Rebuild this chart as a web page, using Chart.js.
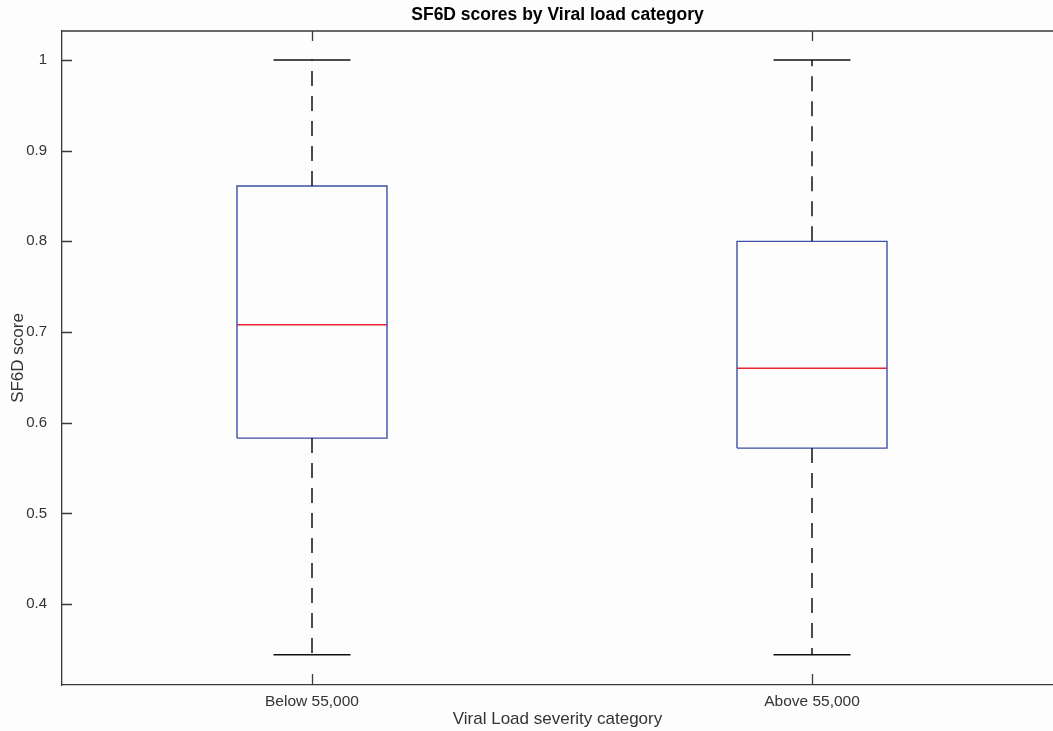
<!DOCTYPE html>
<html>
<head>
<meta charset="utf-8">
<script src="https://cdn.jsdelivr.net/npm/chart.js@4/dist/chart.umd.min.js"></script>
<style>
  html, body { margin: 0; padding: 0; background: #fdfdfd; }
  #wrap { width: 1053px; height: 731px; }
</style>
</head>
<body>
<div id="wrap"><canvas id="chart" width="1053" height="731"></canvas></div>
<script>
// box plot summary values
const categories = ['Below 55,000', 'Above 55,000'];
const whiskerLow = [0.344, 0.344];
const q1 = [0.583, 0.572];
const median = [0.708, 0.660];
const q3 = [0.861, 0.800];
const whiskerHigh = [1.0, 1.0];

const yTicks = [0.4, 0.5, 0.6, 0.7, 0.8, 0.9, 1.0];
const yTickLabels = ['0.4', '0.5', '0.6', '0.7', '0.8', '0.9', '1'];

const boxHalf = 0.15;   // half box width, in category units
const capHalf = 0.077;  // half whisker cap width

const blue = '#3d4fa6';
const red = '#e8262d';
const black = '#111111';
const axisColor = '#3a3a3a';

const datasets = [];
categories.forEach((c, i) => {
  const x = i + 1;
  const line = (data, color, dash, width) => ({
    data, borderColor: color, borderWidth: width, borderDash: dash,
    showLine: true, pointRadius: 0, fill: false, tension: 0
  });
  // whiskers (drawn from box outward)
  datasets.push(line([{x, y: q3[i]}, {x, y: whiskerHigh[i]}], black, [15, 10], 1.5));
  datasets.push(line([{x, y: q1[i]}, {x, y: whiskerLow[i]}], black, [15, 10], 1.5));
  // caps
  datasets.push(line([{x: x - capHalf, y: whiskerHigh[i]}, {x: x + capHalf, y: whiskerHigh[i]}], black, [], 1.5));
  datasets.push(line([{x: x - capHalf, y: whiskerLow[i]}, {x: x + capHalf, y: whiskerLow[i]}], black, [], 1.5));
  // box
  datasets.push(line([
    {x: x - boxHalf, y: q1[i]}, {x: x + boxHalf, y: q1[i]},
    {x: x + boxHalf, y: q3[i]}, {x: x - boxHalf, y: q3[i]},
    {x: x - boxHalf, y: q1[i]}
  ], blue, [], 1.4));
  // median
  datasets.push(line([{x: x - boxHalf, y: median[i]}, {x: x + boxHalf, y: median[i]}], red, [], 1.4));
});

// inward tick marks and the top frame line
const axisExtras = {
  id: 'axisExtras',
  afterDatasetsDraw(chart) {
    const {ctx, chartArea: a, scales} = chart;
    ctx.save();
    ctx.strokeStyle = axisColor;
    ctx.lineWidth = 1.3;
    ctx.beginPath();
    ctx.moveTo(a.left, a.top);
    ctx.lineTo(a.right, a.top);
    scales.y.ticks.forEach(t => {
      const py = Math.round(scales.y.getPixelForValue(t.value)) + 0.5;
      ctx.moveTo(a.left, py);
      ctx.lineTo(a.left + 10, py);
    });
    scales.x.ticks.forEach(t => {
      const px = Math.round(scales.x.getPixelForValue(t.value)) + 0.5;
      ctx.moveTo(px, a.bottom);
      ctx.lineTo(px, a.bottom - 11);
      ctx.moveTo(px, a.top);
      ctx.lineTo(px, a.top + 10);
    });
    ctx.stroke();
    ctx.restore();
  }
};

Chart.defaults.font.family = '"Liberation Sans", Arial, Helvetica, sans-serif';

new Chart(document.getElementById('chart').getContext('2d'), {
  type: 'scatter',
  data: { datasets },
  options: {
    responsive: false,
    animation: false,
    devicePixelRatio: 1,
    layout: { padding: 0 },
    plugins: {
      legend: { display: false },
      tooltip: { enabled: false },
      title: {
        display: true,
        text: 'SF6D scores by Viral load category',
        fullSize: false,
        color: '#000',
        font: { size: 17.5, weight: 'bold' },
        padding: { top: 5, bottom: 5 }
      }
    },
    scales: {
      x: {
        type: 'linear',
        min: 0.5,
        max: 2.482,
        afterBuildTicks: s => { s.ticks = categories.map((c, i) => ({ value: i + 1 })); },
        afterFit: s => { s.height = 46; },
        ticks: {
          callback: (v, i) => categories[i],
          color: '#333',
          font: { size: 15.5 },
          padding: -1,
          maxRotation: 0,
          autoSkip: false
        },
        grid: { display: false },
        border: { display: true, color: axisColor, width: 1.3 },
        title: {
          display: true,
          text: 'Viral Load severity category',
          color: '#333',
          font: { size: 17 },
          padding: { top: 0, bottom: 1 }
        }
      },
      y: {
        min: 0.3107,
        max: 1.032,
        afterBuildTicks: s => { s.ticks = yTicks.map(v => ({ value: v })); },
        afterFit: s => { s.width = 62; },
        ticks: {
          callback: (v, i) => yTickLabels[i],
          color: '#333',
          font: { size: 15 },
          padding: 7
        },
        grid: { display: false },
        border: { display: true, color: axisColor, width: 1.3 },
        title: {
          display: true,
          text: 'SF6D score',
          color: '#333',
          font: { size: 17 },
          padding: { top: 8, bottom: 0 }
        }
      }
    }
  },
  plugins: [axisExtras]
});
</script>
</body>
</html>
